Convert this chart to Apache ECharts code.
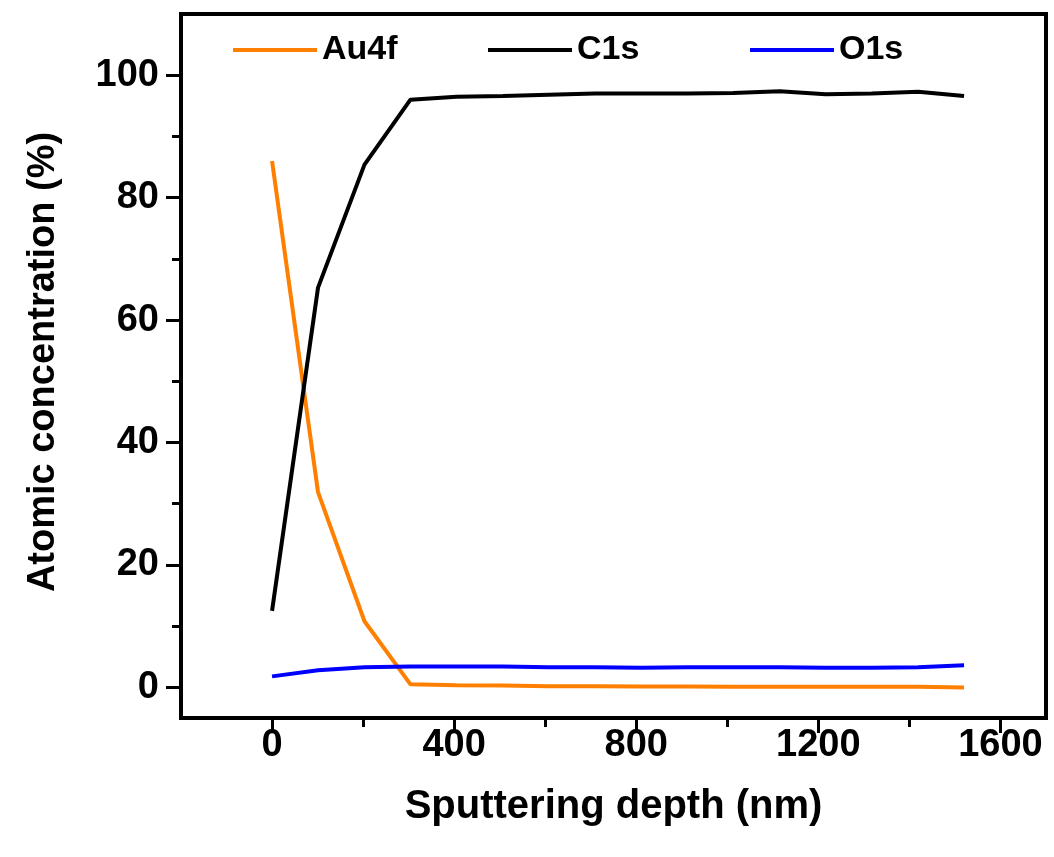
<!DOCTYPE html>
<html>
<head>
<meta charset="utf-8">
<script src="https://cdn.jsdelivr.net/npm/echarts@6/dist/echarts.min.js"></script>
<style>
  html, body { margin: 0; padding: 0; background: #fff; }
  #chart { width: 1054px; height: 857px; }
</style>
</head>
<body>
<div id="chart"></div>
<script>
// sputtering depth (nm)
var depth = [0, 101, 203, 304, 405, 507, 608, 709, 811, 912, 1013, 1115, 1216, 1317, 1419, 1520];
// atomic concentration (%)
var au4f = [86.0, 31.9, 10.8, 0.5, 0.35, 0.3, 0.2, 0.2, 0.15, 0.15, 0.1, 0.1, 0.1, 0.1, 0.1, 0.0];
var c1s  = [12.5, 65.3, 85.4, 96.0, 96.5, 96.6, 96.8, 97.0, 97.0, 97.0, 97.1, 97.4, 96.9, 97.0, 97.3, 96.6];
var o1s  = [1.8, 2.8, 3.3, 3.4, 3.4, 3.4, 3.3, 3.3, 3.2, 3.3, 3.3, 3.3, 3.2, 3.2, 3.3, 3.6];

var xMajor = [0, 400, 800, 1200, 1600];
var xMinor = [200, 600, 1000, 1400];
var yMajor = [0, 20, 40, 60, 80, 100];
var yMinor = [10, 30, 50, 70, 90];

function pairs(xs, ys) {
  return xs.map(function (x, i) { return [x, ys[i]]; });
}

var font = 'Liberation Sans, Arial, sans-serif';
var myChart = echarts.init(document.getElementById('chart'));

function legendAt(name, left) {
  return {
    data: [{ name: name, icon: 'rect' }],
    left: left,
    top: 28,
    itemWidth: 84,
    itemHeight: 4,
    itemGap: 6,
    selectedMode: false,
    textStyle: { fontFamily: font, fontWeight: 'bold', fontSize: 34, color: '#000' }
  };
}

var option = {
  animation: false,
  backgroundColor: '#fff',
  grid: {
    left: 181, right: 8, top: 14, bottom: 139,
    show: true, borderColor: '#000', borderWidth: 4
  },
  legend: [legendAt('Au4f', 228), legendAt('C1s', 483), legendAt('O1s', 745)],
  xAxis: [{
    type: 'value', min: -200, max: 1700,
    name: 'Sputtering depth (nm)',
    nameLocation: 'middle',
    nameGap: 69,
    nameTextStyle: { fontFamily: font, fontWeight: 'bold', fontSize: 40, color: '#000' },
    axisLine: { show: true, onZero: false, lineStyle: { color: '#000', width: 4 } },
    axisTick: { show: true, inside: false, length: 15, customValues: xMajor, lineStyle: { color: '#000', width: 3 } },
    axisLabel: {
      customValues: xMajor, margin: 9, fontFamily: font, fontWeight: 'bold', fontSize: 38, color: '#000',
      formatter: function (v) { return String(v); }
    },
    splitLine: { show: false }
  }, {
    type: 'value', min: -200, max: 1700, position: 'bottom',
    axisLine: { show: false, onZero: false },
    axisTick: { show: true, length: 9, customValues: xMinor, lineStyle: { color: '#000', width: 3 } },
    axisLabel: { show: false },
    splitLine: { show: false }
  }],
  yAxis: [{
    type: 'value', min: -5, max: 110,
    name: 'Atomic concentration (%)',
    nameLocation: 'middle',
    nameGap: 118,
    nameTextStyle: { fontFamily: font, fontWeight: 'bold', fontSize: 38, color: '#000', padding: [0, 0, 0, 8] },
    axisLine: { show: true, onZero: false, lineStyle: { color: '#000', width: 4 } },
    axisTick: { show: true, length: 15, customValues: yMajor, lineStyle: { color: '#000', width: 3 } },
    axisLabel: {
      customValues: yMajor, margin: 22, fontFamily: font, fontWeight: 'bold', fontSize: 38, color: '#000',
      formatter: function (v) { return String(v); }
    },
    splitLine: { show: false }
  }, {
    type: 'value', min: -5, max: 110, position: 'left',
    axisLine: { show: false, onZero: false },
    axisTick: { show: true, length: 9, customValues: yMinor, lineStyle: { color: '#000', width: 3 } },
    axisLabel: { show: false },
    splitLine: { show: false }
  }],
  series: [{
    name: 'Au4f', type: 'line', symbol: 'none',
    lineStyle: { color: '#ff7f00', width: 4 }, itemStyle: { color: '#ff7f00' },
    data: pairs(depth, au4f)
  }, {
    name: 'C1s', type: 'line', symbol: 'none',
    lineStyle: { color: '#000', width: 4 }, itemStyle: { color: '#000' },
    data: pairs(depth, c1s)
  }, {
    name: 'O1s', type: 'line', symbol: 'none',
    lineStyle: { color: '#0000ff', width: 4 }, itemStyle: { color: '#0000ff' },
    data: pairs(depth, o1s)
  }]
};

myChart.setOption(option);
</script>
</body>
</html>
